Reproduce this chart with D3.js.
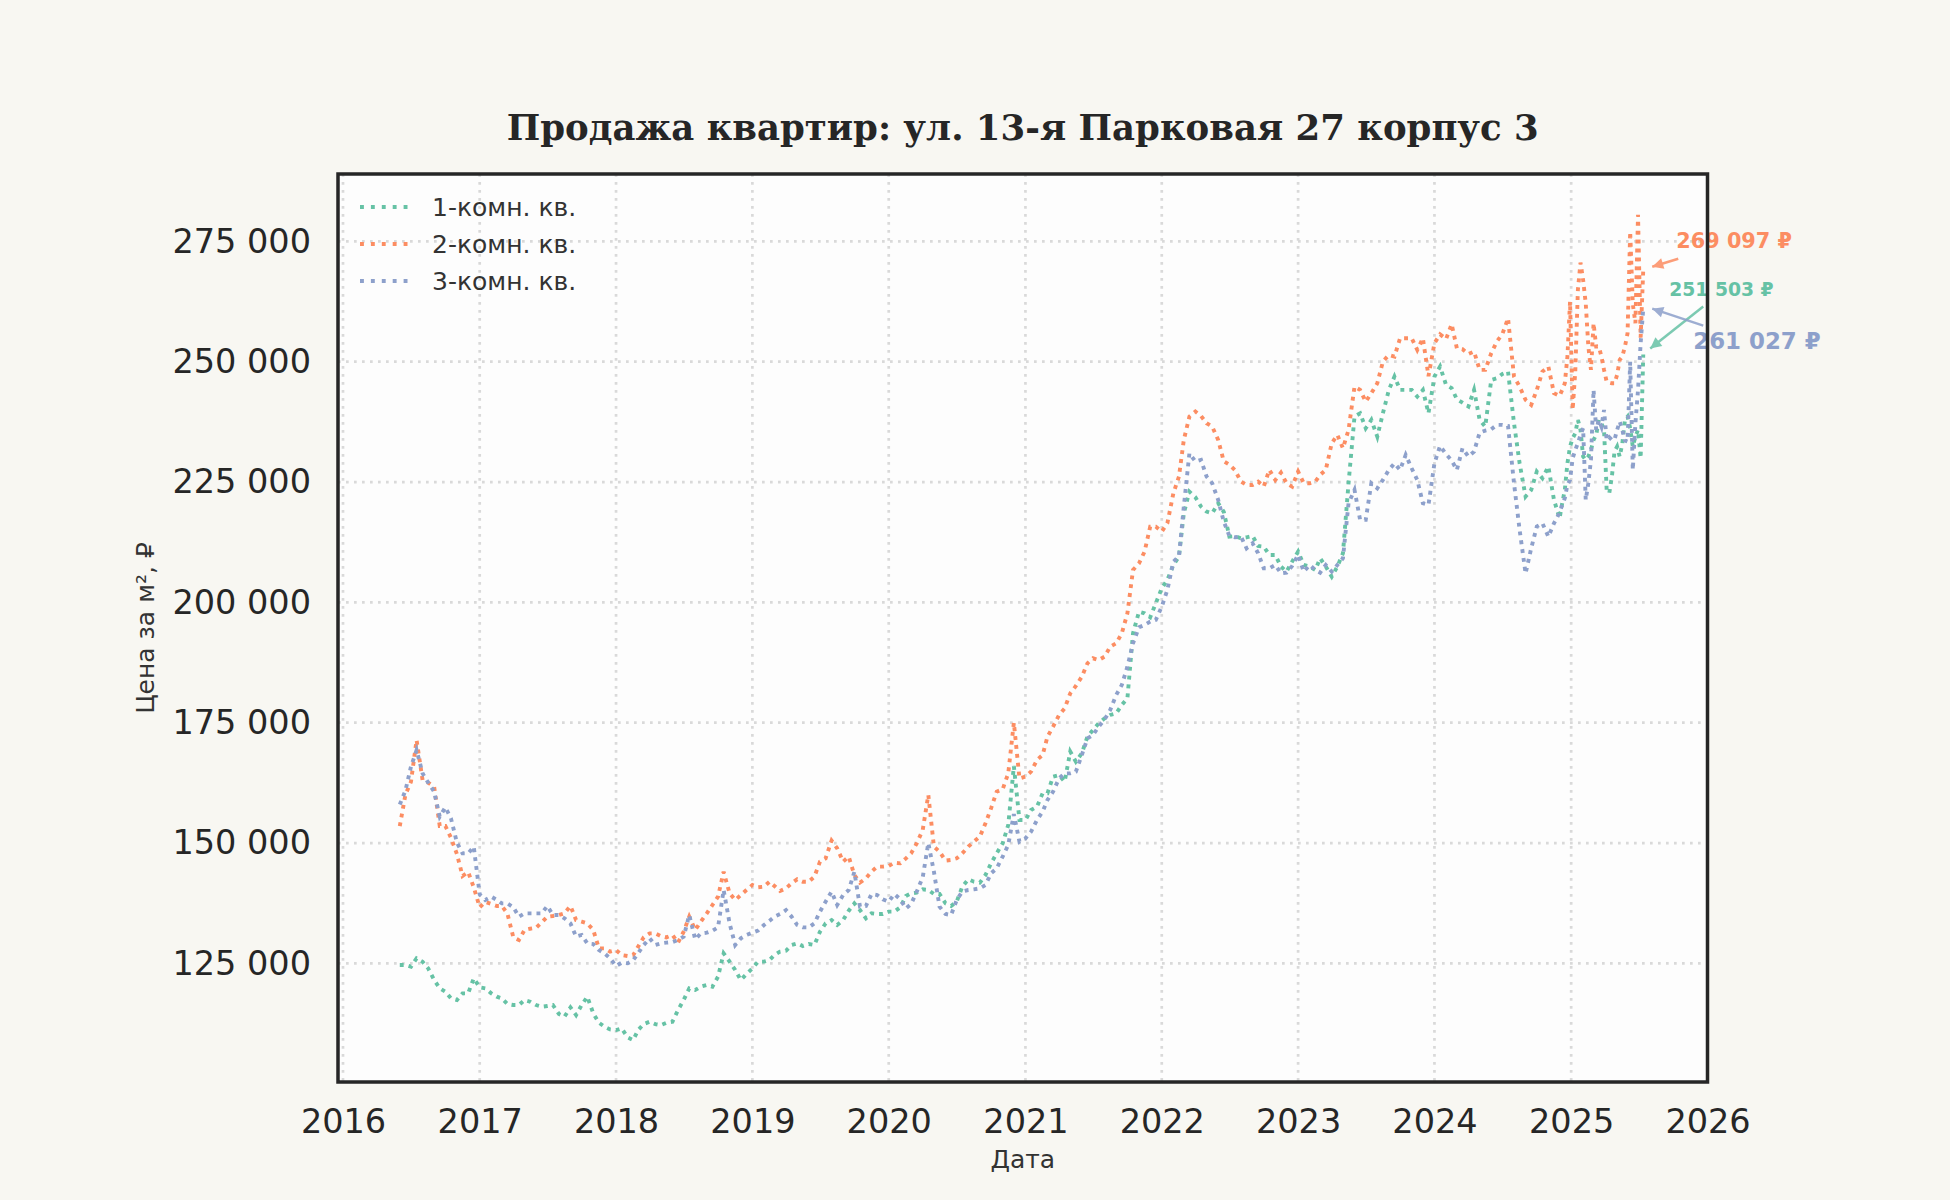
<!DOCTYPE html>
<html>
<head>
<meta charset="utf-8">
<script src="https://cdn.jsdelivr.net/npm/d3@7"></script>
<style>
  body { margin: 0; background: #f8f7f2; }
  svg text { font-family: 'DejaVu Sans', sans-serif; }
</style>
</head>
<body>
<script>
// semi-monthly observations, weekly from Dec 2024
const dates = [
  '2016-06-01','2016-06-16','2016-07-01','2016-07-16','2016-08-01','2016-08-16','2016-09-01','2016-09-16','2016-10-01','2016-10-16','2016-11-01','2016-11-16','2016-12-01','2016-12-16',
  '2017-01-01','2017-01-16','2017-02-01','2017-02-16','2017-03-01','2017-03-16','2017-04-01','2017-04-16','2017-05-01','2017-05-16','2017-06-01','2017-06-16','2017-07-01','2017-07-16','2017-08-01','2017-08-16','2017-09-01','2017-09-16','2017-10-01','2017-10-16','2017-11-01','2017-11-16','2017-12-01','2017-12-16',
  '2018-01-01','2018-01-16','2018-02-01','2018-02-16','2018-03-01','2018-03-16','2018-04-01','2018-04-16','2018-05-01','2018-05-16','2018-06-01','2018-06-16','2018-07-01','2018-07-16','2018-08-01','2018-08-16','2018-09-01','2018-09-16','2018-10-01','2018-10-16','2018-11-01','2018-11-16','2018-12-01','2018-12-16',
  '2019-01-01','2019-01-16','2019-02-01','2019-02-16','2019-03-01','2019-03-16','2019-04-01','2019-04-16','2019-05-01','2019-05-16','2019-06-01','2019-06-16','2019-07-01','2019-07-16','2019-08-01','2019-08-16','2019-09-01','2019-09-16','2019-10-01','2019-10-16','2019-11-01','2019-11-16','2019-12-01','2019-12-16',
  '2020-01-01','2020-01-16','2020-02-01','2020-02-16','2020-03-01','2020-03-16','2020-04-01','2020-04-16','2020-05-01','2020-05-16','2020-06-01','2020-06-16','2020-07-01','2020-07-16','2020-08-01','2020-08-16','2020-09-01','2020-09-16','2020-10-01','2020-10-16','2020-11-01','2020-11-16','2020-12-01','2020-12-16',
  '2021-01-01','2021-01-16','2021-02-01','2021-02-16','2021-03-01','2021-03-16','2021-04-01','2021-04-16','2021-05-01','2021-05-16','2021-06-01','2021-06-16','2021-07-01','2021-07-16','2021-08-01','2021-08-16','2021-09-01','2021-09-16','2021-10-01','2021-10-16','2021-11-01','2021-11-16','2021-12-01','2021-12-16',
  '2022-01-01','2022-01-16','2022-02-01','2022-02-16','2022-03-01','2022-03-16','2022-04-01','2022-04-16','2022-05-01','2022-05-16','2022-06-01','2022-06-16','2022-07-01','2022-07-16','2022-08-01','2022-08-16','2022-09-01','2022-09-16','2022-10-01','2022-10-16','2022-11-01','2022-11-16','2022-12-01','2022-12-16',
  '2023-01-01','2023-01-16','2023-02-01','2023-02-16','2023-03-01','2023-03-16','2023-04-01','2023-04-16','2023-05-01','2023-05-16','2023-06-01','2023-06-16','2023-07-01','2023-07-16','2023-08-01','2023-08-16','2023-09-01','2023-09-16','2023-10-01','2023-10-16','2023-11-01','2023-11-16','2023-12-01','2023-12-16',
  '2024-01-01','2024-01-16','2024-02-01','2024-02-16','2024-03-01','2024-03-16','2024-04-01','2024-04-16','2024-05-01','2024-05-16','2024-06-01','2024-06-16','2024-07-01','2024-07-16','2024-08-01','2024-08-16','2024-09-01','2024-09-16','2024-10-01','2024-10-16','2024-11-01','2024-11-16','2024-12-01',
  '2024-12-08','2024-12-15','2024-12-22','2024-12-29','2025-01-05','2025-01-12','2025-01-19','2025-01-26','2025-02-02','2025-02-09','2025-02-16','2025-02-23','2025-03-02','2025-03-09','2025-03-16','2025-03-23',
  '2025-03-30','2025-04-06','2025-04-13','2025-04-20','2025-04-27','2025-05-04','2025-05-11','2025-05-18','2025-05-25','2025-06-01','2025-06-08','2025-06-15','2025-06-22','2025-06-29','2025-07-06','2025-07-13'
];

const oneRoom = [
  124650,124650,124300,126040,125350,123960,121540,119800,119110,117730,117380,118770,118770,121890,
  120010,119800,118770,118070,117730,116550,116340,116340,117380,117030,116340,115990,116130,116340,114470,113920,115860,114260,116340,118070,114610,112670,111840,111280,
  111140,111490,109620,109070,111140,112390,112880,112390,112180,112670,112880,115300,117380,119800,119460,120150,120500,120150,122230,127080,125350,123620,121540,122780,
  123960,125350,125350,125690,126730,127430,127630,128810,129160,128600,129020,128810,131580,133310,134000,132960,134000,135940,137470,136080,134350,135390,135250,135250,
  135740,135740,136640,139000,139550,139690,140380,140240,139410,139410,137470,136920,137820,140930,142460,141970,141770,143360,145780,147860,149940,153750,166000,154780,
  154780,156860,157560,160330,160330,163790,164140,162750,168990,166910,168640,172100,173490,174870,175910,176610,176950,178680,180070,193570,198080,197730,196900,199810,
  202930,204660,207780,209510,218510,223010,221840,219900,218860,218510,220590,218800,213660,213750,213310,213520,213800,211720,211580,209850,209850,207430,206390,208470,
  210540,207770,207430,206730,209160,207430,205350,207430,210200,224750,238600,239290,236170,237910,234440,239290,244140,246910,244140,244140,244140,242760,244140,239290,
  246910,249000,245200,244500,242200,241500,240700,244140,237910,236520,246220,246560,247470,247950,237210,228900,221970,223360,227170,225790,228210,221280,217470,
  220590,223360,228900,232360,234100,235130,237910,235830,230290,229600,230290,231670,233750,234790,237910,237210,
  235830,223360,222670,226130,231320,232360,230290,233060,237910,238600,236170,232360,234450,235830,229940,251503
];

const twoRoom = [
  153500,160000,162750,171400,163100,162550,161700,153540,153540,151100,147700,143150,144000,140800,
  136640,137750,137330,136920,136920,135390,130400,129850,131930,132200,132400,133520,134700,134840,135040,135390,136920,134000,133660,133300,131930,128120,128120,127420,
  127770,126730,126525,126730,128460,130400,131230,131230,130680,130400,130890,129300,131580,134700,131930,133660,135390,137120,138850,144050,139550,138160,139200,140240,
  141280,140800,140930,141970,141070,140030,140590,141630,142460,141970,141970,143010,146130,146820,150500,148900,146130,147170,143360,141770,142660,144050,145090,145090,
  145230,145920,145780,146820,147860,149940,152700,160000,149250,148210,146340,146480,146820,147860,149250,150290,151320,154100,157210,160670,161160,164480,175000,163440,
  163790,164830,167260,168290,172100,174180,176600,177990,181100,182630,184570,187340,188380,188030,188730,190800,191500,193580,197730,206740,208120,210550,215740,215740,
  214700,216440,222670,226130,233750,238600,239640,238740,237220,236520,233750,229300,228600,227450,225090,224400,224400,225090,224050,227520,225430,226960,224750,224050,
  227170,224750,224750,225090,226480,227520,233060,234790,232020,235830,244830,244140,241710,243450,245530,250030,251410,251070,254880,254880,254880,252450,254880,247000,
  253840,255700,254700,257800,252800,252600,251600,252100,248300,248300,251760,254180,255780,259030,246910,244830,242060,241020,244140,247950,248990,243450,242900,
  244140,245520,251070,262500,240000,247950,264920,270600,267000,262150,253150,248300,258000,253150,253150,251070,
  248300,245870,245660,245520,245520,247260,250380,251070,253150,255920,277000,262000,258000,280500,255000,269097
];

const threeRoom = [
  158000,160880,165870,169300,164480,162550,160670,155480,157420,155130,150080,147860,147860,149250,
  139340,138160,138850,138160,137470,137470,136640,134700,135390,135390,135390,135390,136920,135040,135040,134350,133300,130540,130890,129160,129020,127770,127080,126040,
  124450,125140,125000,125690,127080,128810,130200,128810,129160,129300,129430,129850,130540,135040,129990,131230,131370,131790,132480,140240,133310,128810,130200,130890,
  131370,131790,132960,133870,134700,135250,136080,134700,132960,132480,132480,133310,135740,137820,139900,137120,139200,140240,144000,136780,136920,139410,139200,138300,
  137820,139410,138300,136430,137330,139900,142870,150000,144050,136780,135250,135050,138160,139900,140240,140380,140590,141280,143700,144740,147170,149590,156000,150280,
  150970,152360,154790,156520,158940,160670,163440,164480,164480,164830,168290,171760,172450,174180,175700,177640,180760,182840,186650,191500,194820,195310,196000,196350,
  199120,202580,208470,209510,219900,230980,229250,229600,226130,224750,221280,216800,213800,213520,213660,211240,212280,210200,207080,207080,207770,206040,206180,207570,
  209850,206390,207770,206730,206180,207770,206390,207770,209160,220590,223360,217130,217130,224750,223710,225440,227520,228900,227520,230640,227860,225440,220590,220240,
  228900,232500,230800,229500,227500,232000,230300,231320,235270,235690,235970,236870,236870,236660,224750,215050,206000,211240,215740,216430,213660,216430,218650,
  220240,221630,224400,225440,229940,231670,233060,234790,236170,221280,224750,229600,244140,235830,237910,236520,
  239980,233750,234310,233750,233750,235830,237560,235830,233610,233400,250000,227510,237210,244140,253840,261027
];

const seriesNames = ['1-комн. кв.', '2-комн. кв.', '3-комн. кв.'];
const seriesColors = ['#66c2a5', '#fc8d62', '#8da0cb'];
const yTickValues = [125000, 150000, 175000, 200000, 225000, 250000, 275000];
const xTickYears = [2016, 2017, 2018, 2019, 2020, 2021, 2022, 2023, 2024, 2025, 2026];

// label placement relative to the last point: [text dx, text dy, font size, tail dx, tail dy, tip dx, tip dy]
const annoLayout = [
  [26, -58, 18.75, 60, -48, 7, -6],
  [33, -22, 20.8, 35, -11, 9, -3],
  [50, 40, 22.9, 60, 17, 9, 0]
];

const W = 1950, H = 1200;
const margin = { top: 174, right: 242.5, bottom: 118, left: 338 };
const width = W - margin.left - margin.right;
const height = H - margin.top - margin.bottom;

const parse = d3.timeParse('%Y-%m-%d');
const fmt = v => d3.format(',')(v).replace(/,/g, ' ');

const series = [oneRoom, twoRoom, threeRoom].map((vals, i) => ({
  name: seriesNames[i],
  color: seriesColors[i],
  points: dates.map((d, j) => ({ date: parse(d), value: vals[j] }))
}));

const svg = d3.select('body').append('svg')
  .attr('width', W)
  .attr('height', H)
  .style('background', '#f8f7f2');

svg.append('text')
  .attr('x', margin.left + width / 2)
  .attr('y', 140)
  .attr('text-anchor', 'middle')
  .style('font-family', "'DejaVu Serif', serif")
  .style('font-weight', 'bold')
  .style('font-size', '35.5px')
  .style('fill', '#262626')
  .text('Продажа квартир: ул. 13-я Парковая 27 корпус 3');

const g = svg.append('g')
  .attr('transform', `translate(${margin.left},${margin.top})`);

const x = d3.scaleTime()
  .domain([new Date(2016, 0, 1), new Date(2026, 0, 1)])
  .range([5, width]);
const y = d3.scaleLinear()
  .domain([100350, 289000])
  .range([height, 0]);

g.append('rect')
  .attr('width', width)
  .attr('height', height)
  .attr('fill', '#fdfdfd');

// grid
const xTicks = xTickYears.map(yr => new Date(yr, 0, 1));
g.append('g').selectAll('line')
  .data(xTicks)
  .enter().append('line')
  .attr('x1', d => x(d)).attr('x2', d => x(d))
  .attr('y1', 0).attr('y2', height)
  .attr('stroke', '#d9d9d9')
  .attr('stroke-width', 2.7)
  .attr('stroke-dasharray', '2.7 5.3');

g.append('g').selectAll('line')
  .data(yTickValues)
  .enter().append('line')
  .attr('x1', 0).attr('x2', width)
  .attr('y1', d => y(d)).attr('y2', d => y(d))
  .attr('stroke', '#d9d9d9')
  .attr('stroke-width', 2.7)
  .attr('stroke-dasharray', '2.7 5.3');

// axes
const xAxis = g.append('g')
  .attr('transform', `translate(0,${height})`)
  .call(d3.axisBottom(x).tickValues(xTicks).tickSize(0).tickFormat(d3.timeFormat('%Y')));
xAxis.select('.domain').remove();
xAxis.selectAll('text')
  .attr('y', 39)
  .attr('dy', '0.35em')
  .style('font-size', '33.5px')
  .style('fill', '#262626');

const yAxis = g.append('g')
  .call(d3.axisLeft(y).tickValues(yTickValues).tickSize(0).tickPadding(27).tickFormat(fmt));
yAxis.select('.domain').remove();
yAxis.selectAll('text')
  .style('font-size', '33.5px')
  .style('fill', '#262626');

svg.append('text')
  .attr('x', margin.left + width / 2)
  .attr('y', 1168)
  .attr('text-anchor', 'middle')
  .style('font-size', '25px')
  .style('fill', '#333')
  .text('Дата');

svg.append('text')
  .attr('transform', `translate(154,${margin.top + height / 2}) rotate(-90)`)
  .attr('text-anchor', 'middle')
  .style('font-size', '25px')
  .style('fill', '#333')
  .text('Цена за м², ₽');

// lines
const line = d3.line()
  .defined(d => d.value != null)
  .x(d => x(d.date))
  .y(d => y(d.value));

g.append('g').selectAll('path')
  .data(series)
  .enter().append('path')
  .attr('d', d => line(d.points))
  .attr('fill', 'none')
  .attr('stroke', d => d.color)
  .attr('stroke-width', 3.9)
  .attr('stroke-dasharray', '3.9 5');

// legend
const legend = g.append('g').selectAll('g')
  .data(series)
  .enter().append('g')
  .attr('transform', (d, i) => `translate(22,${33 + i * 37})`);
legend.append('line')
  .attr('x1', 0).attr('x2', 51)
  .attr('stroke', d => d.color)
  .attr('stroke-width', 3.9)
  .attr('stroke-dasharray', '3.9 7');
legend.append('text')
  .attr('x', 72)
  .attr('dy', '0.35em')
  .style('font-size', '25px')
  .style('fill', '#333')
  .text(d => d.name);

// end labels with arrows
const defs = svg.append('defs');
series.forEach((s, i) => {
  defs.append('marker')
    .attr('id', 'head' + i)
    .attr('viewBox', '0 0 10 10')
    .attr('refX', 10).attr('refY', 5)
    .attr('markerWidth', 13).attr('markerHeight', 11)
    .attr('markerUnits', 'userSpaceOnUse')
    .attr('orient', 'auto')
    .append('path')
    .attr('d', 'M0,0L10,5L0,10z')
    .attr('fill', s.color);
});

const anno = g.append('g');
series.forEach((s, i) => {
  const last = s.points[s.points.length - 1];
  const px = x(last.date), py = y(last.value);
  const [tdx, tdy, size, adx, ady, hdx, hdy] = annoLayout[i];
  anno.append('line')
    .attr('x1', px + adx).attr('y1', py + ady)
    .attr('x2', px + hdx).attr('y2', py + hdy)
    .attr('stroke', s.color)
    .attr('stroke-width', 2.5)
    .attr('opacity', 0.85)
    .attr('marker-end', `url(#head${i})`);
  anno.append('text')
    .attr('x', px + tdx)
    .attr('y', py + tdy)
    .style('font-size', size + 'px')
    .style('font-weight', 'bold')
    .style('fill', s.color)
    .text(fmt(last.value) + ' ₽');
});

// frame
g.append('rect')
  .attr('width', width)
  .attr('height', height)
  .attr('fill', 'none')
  .attr('stroke', '#262626')
  .attr('stroke-width', 3.5);
</script>
</body>
</html>
